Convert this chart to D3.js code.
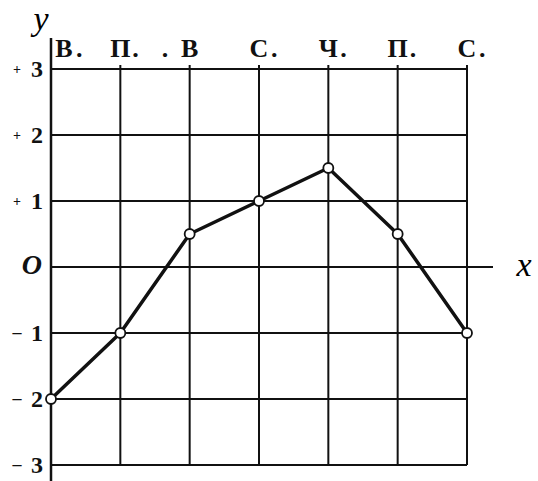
<!DOCTYPE html>
<html>
<head>
<meta charset="utf-8">
<script src="https://cdn.jsdelivr.net/npm/d3@7"></script>
<style>
  body { margin: 0; background: #fff; }
</style>
</head>
<body>
<div id="chart"></div>
<script>
const days = ["В", "П", "В", "С", "Ч", "П", "С"];
const values = [-2, -1, 0.5, 1, 1.5, 0.5, -1];
const yTicks = [-3, -2, -1, 0, 1, 2, 3];
const yTickLabels = ["–3", "–2", "–1", "0", "+1", "+2", "+3"];

const width = 538, height = 481;
const serif = "'Liberation Serif', 'Times New Roman', serif";

const svg = d3.select("#chart")
  .append("svg")
  .attr("width", width)
  .attr("height", height)
  .style("font-family", serif);

const x = d3.scaleLinear()
  .domain([0, days.length - 1])
  .range([51, 467]);

const y = d3.scaleLinear()
  .domain([-3, 3])
  .range([465, 69]);

// grid - horizontal
svg.append("g")
  .selectAll("line")
  .data(yTicks)
  .join("line")
  .attr("x1", x(0))
  .attr("x2", d => d === 0 ? 493 : x(days.length - 1))
  .attr("y1", d => y(d))
  .attr("y2", d => y(d))
  .attr("stroke", "#111")
  .attr("stroke-width", 2);

// grid - vertical
svg.append("g")
  .selectAll("line")
  .data(days.slice(1))
  .join("line")
  .attr("x1", (d, i) => x(i + 1))
  .attr("x2", (d, i) => x(i + 1))
  .attr("y1", y(3) - 4)
  .attr("y2", y(-3))
  .attr("stroke", "#111")
  .attr("stroke-width", 2);

// y axis
svg.append("line")
  .attr("x1", x(0)).attr("x2", x(0))
  .attr("y1", 38).attr("y2", height)
  .attr("stroke", "#111")
  .attr("stroke-width", 2.5);

// y tick labels: small sign mark + digit
const tickG = svg.append("g").attr("fill", "#111");
yTicks.forEach((t, i) => {
  const lab = yTickLabels[i];
  if (t === 0) {
    tickG.append("text")
      .attr("x", 42).attr("y", y(t) + 7)
      .attr("text-anchor", "end")
      .style("font-size", "28px")
      .style("font-style", "italic")
      .style("font-weight", "bold")
      .text("O");
    return;
  }
  tickG.append("text")
    .attr("x", 17).attr("y", y(t) + 5)
    .attr("text-anchor", "middle")
    .style("font-size", lab[0] === "+" ? "14px" : "18px")
    .style("font-weight", "bold")
    .text(lab[0]);
  tickG.append("text")
    .attr("x", 43).attr("y", y(t) + 8)
    .attr("text-anchor", "end")
    .style("font-size", "24px")
    .style("font-weight", "bold")
    .text(lab.slice(1));
});

// day labels
const dayG = svg.append("g").attr("fill", "#111");
days.forEach((d, i) => {
  const cx = i === 0 ? x(0) + 13 : x(i);
  dayG.append("text")
    .attr("x", cx).attr("y", 57)
    .attr("text-anchor", "middle")
    .style("font-size", "26px")
    .style("font-weight", "bold")
    .text(d);
  dayG.append("text")
    .attr("x", i === 2 ? cx - 28 : cx + 12).attr("y", 57)
    .style("font-size", "26px")
    .style("font-weight", "bold")
    .text(".");
});

// axis names
svg.append("text")
  .attr("x", 524).attr("y", 276)
  .attr("text-anchor", "middle")
  .style("font-size", "34px")
  .style("font-style", "italic")
  .text("x");

svg.append("text")
  .attr("x", 41).attr("y", 30)
  .attr("text-anchor", "middle")
  .style("font-size", "34px")
  .style("font-style", "italic")
  .text("y");

// data line
const line = d3.line()
  .x((d, i) => x(i))
  .y(d => y(d));

svg.append("path")
  .datum(values)
  .attr("d", line)
  .attr("fill", "none")
  .attr("stroke", "#111")
  .attr("stroke-width", 3.5)
  .attr("stroke-linejoin", "round");

svg.append("g")
  .selectAll("circle")
  .data(values)
  .join("circle")
  .attr("cx", (d, i) => x(i))
  .attr("cy", d => y(d))
  .attr("r", 5)
  .attr("fill", "#fff")
  .attr("stroke", "#111")
  .attr("stroke-width", 1.8);
</script>
</body>
</html>
